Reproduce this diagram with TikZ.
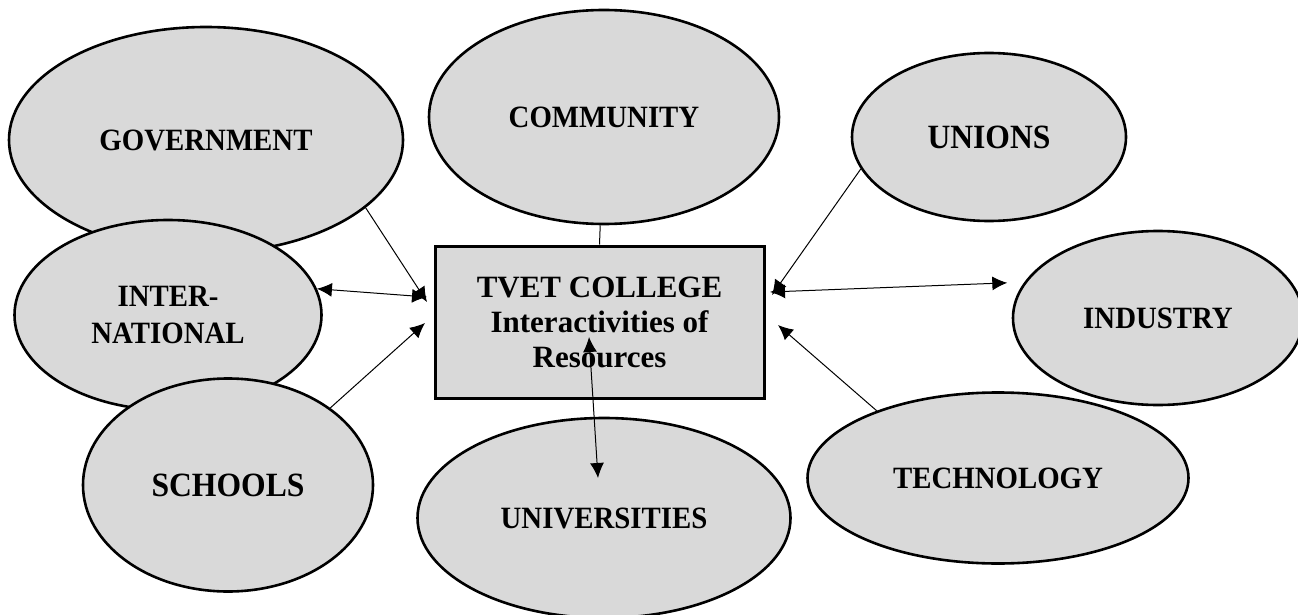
\documentclass[tikz,border=0pt]{standalone}
\usepackage{fontspec}
\setmainfont{Liberation Serif}
\newfontfamily\tallfont{Liberation Serif}[FakeStretch=0.93]
\usetikzlibrary{shapes.geometric,arrows.meta}

\definecolor{bubble}{HTML}{D9D9D9}
\tikzset{
  party/.style={ellipse,draw,line width=2.6pt,fill=bubble,inner sep=0pt,align=center,
    font=\tallfont\bfseries\fontsize{31}{37}\selectfont},
  college/.style={rectangle,draw,line width=3pt,fill=bubble,inner sep=0pt,align=center,
    font=\bfseries\fontsize{31}{35}\selectfont},
  link/.style={line width=1pt,-{Latex[length=15pt,width=14pt]}},
  twoway/.style={line width=1pt,{Latex[length=15pt,width=14pt]}-{Latex[length=15pt,width=14pt]}},
}

\begin{document}
\begin{tikzpicture}[x=1pt,y=-1pt]
        \useasboundingbox (0,0) rectangle (1298,615);
        % partners, back to front
        \node[party,minimum width=394pt,minimum height=226pt] (gov) at (206,140) {GOVERNMENT};
        \node[party,minimum width=350pt,minimum height=214pt] (com) at (604,117) {COMMUNITY};
        \node[party,minimum width=274pt,minimum height=168pt,font=\tallfont\bfseries\fontsize{34}{38}\selectfont] (uns) at (989,137) {UNIONS};
        \node[party,minimum width=307pt,minimum height=190pt] (intl) at (168,315) {INTER-\\NATIONAL};
        \node[party,minimum width=290pt,minimum height=174pt] (ind) at (1158,318) {INDUSTRY};
        \node[party,minimum width=290pt,minimum height=213pt,font=\tallfont\bfseries\fontsize{34}{38}\selectfont] (sch) at (228,485) {SCHOOLS};
        \node[party,minimum width=373pt,minimum height=200pt] (uni) at (604,518) {UNIVERSITIES};
        \node[party,minimum width=381pt,minimum height=171pt] (tec) at (998,478) {TECHNOLOGY};
        % the college in the middle
        \node[college,minimum width=329pt,minimum height=152pt] (col) at (599.5,322) {TVET COLLEGE\\Interactivities of\\Resources};
        % loose ends next to the college box
        \coordinate (gIn) at (427,302);
        \coordinate (iIn) at (427,297);
        \coordinate (sIn) at (425,323);
        \coordinate (nIn) at (772,295);
        \coordinate (dOut) at (770,292);
        \coordinate (tIn) at (778,325);
        \coordinate (vUp) at (589,337);
        \coordinate (vDn) at (598,478);
        % links
        \draw[line width=1pt] (com.-92) -- (col.north);
        \draw[link] (gov.-23) -- (gIn);
        \draw[twoway] (intl.10) -- (iIn);
        \draw[link] (sch.37) -- (sIn);
        \draw[link] (uns.194) -- (nIn);
        \draw[twoway,shorten >=17pt] (dOut) -- (ind.165);
        \draw[link] (tec.151) -- (tIn);
        \draw[twoway] (vUp) -- (vDn);
\end{tikzpicture}
\end{document}
